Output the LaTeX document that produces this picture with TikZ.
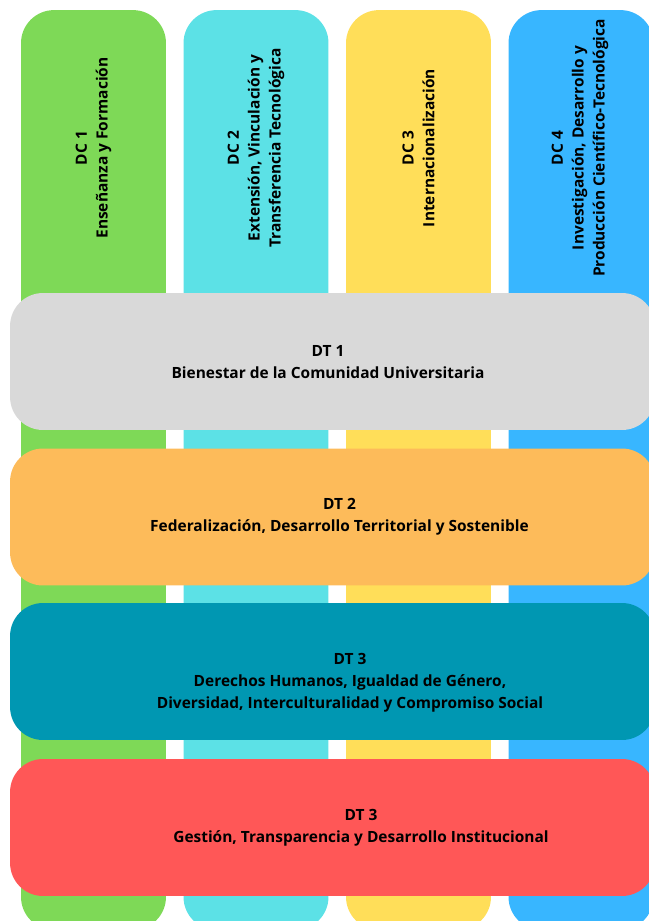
\documentclass[tikz,border=0pt]{standalone}
\usepackage{fontspec}
\setmainfont{Open Sans}
\usetikzlibrary{positioning}

\definecolor{dcgreen}{HTML}{7ED957}
\definecolor{dccyan}{HTML}{5CE1E6}
\definecolor{dcyellow}{HTML}{FFDE59}
\definecolor{dcblue}{HTML}{38B6FF}
\definecolor{dtgrey}{HTML}{D9D9D9}
\definecolor{dtorange}{HTML}{FDBB5A}
\definecolor{dtteal}{HTML}{0097B2}
\definecolor{dtred}{HTML}{FF5757}

\begin{document}
\begin{tikzpicture}[x=0.02cm, y=-0.02cm,
          column/.style = {rectangle, rounded corners=0.66cm, minimum width=2.9cm,
            minimum height=18.4cm, inner sep=0pt},
          band/.style = {rectangle, rounded corners=0.66cm, minimum width=12.9cm,
            minimum height=2.74cm, inner sep=0pt},
          dclabel/.style = {rotate=90, align=center, text=black,
            font=\bfseries\fontsize{8.8}{11.9}\selectfont},
          dtlabel/.style = {align=center, text=black,
            font=\bfseries\fontsize{8.8}{12.5}\selectfont}]
        \useasboundingbox (0,0) rectangle (649,921);
        \clip (0,0) rectangle (649,921);
        % vertical columns
        \node [column, fill=dcgreen] (dc1) at (93.5,470) {};
        \node [column, fill=dccyan] (dc2) at (256,470) {};
        \node [column, fill=dcyellow] (dc3) at (418.5,470) {};
        \node [column, fill=dcblue] (dc4) at (581,470) {};
        \node [dclabel] (dc1t) at (93.5,148) {DC 1\\Enseñanza y Formación};
        \node [dclabel] (dc2t) at (256,148) {DC 2\\Extensión, Vinculación y\\Transferencia Tecnológica};
        \node [dclabel] (dc3t) at (418.5,148) {DC 3\\Internacionalización};
        \node [dclabel] (dc4t) at (580,148) {DC 4\\Investigación, Desarrollo y\\Producción Científico-Tecnológica};
        % horizontal bands
        \node [band, fill=dtgrey] (dt1) at (332.5,361.5) {};
        \node [band, fill=dtorange] (dt2) at (332.5,517) {};
        \node [band, fill=dtteal] (dt3) at (332.5,671.5) {};
        \node [band, fill=dtred] (dt4) at (332.5,827.5) {};
        \node [dtlabel] (dt1t) at (328,362) {DT 1\\Bienestar de la Comunidad Universitaria};
        \node [dtlabel] (dt2t) at (339.5,517) {DT 2\\Federalización, Desarrollo Territorial y Sostenible};
        \node [dtlabel] (dt3t) at (350,683) {DT 3\\Derechos Humanos, Igualdad de Género,\\Diversidad, Interculturalidad y Compromiso Social};
        \node [dtlabel] (dt4t) at (361,827.5) {DT 3\\Gestión, Transparencia y Desarrollo Institucional};
\end{tikzpicture}
\end{document}
